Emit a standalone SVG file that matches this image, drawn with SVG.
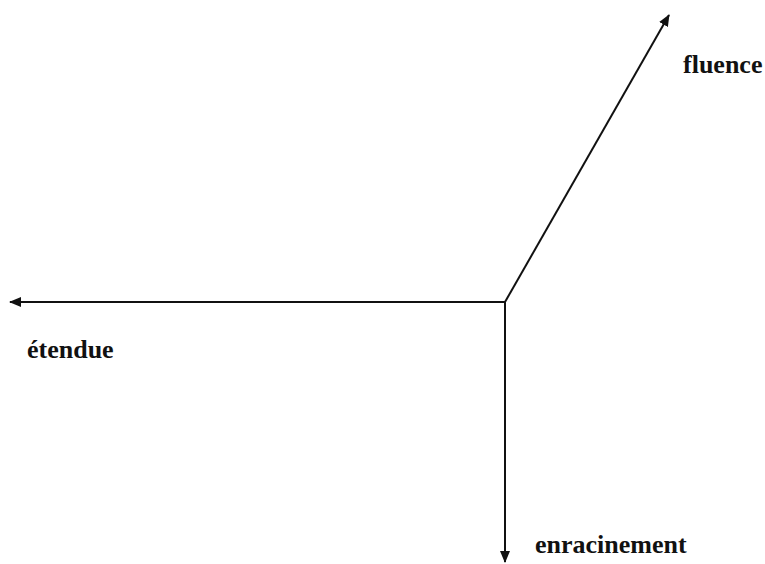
<svg xmlns="http://www.w3.org/2000/svg" width="765" height="564" viewBox="0 0 765 564">
<style>
.ax{stroke:#111;stroke-width:2;fill:none}
.lbl{font-family:"Liberation Serif",serif;font-weight:bold;font-size:26px;fill:#111}
</style>
<defs>
<marker id="ah" markerWidth="12" markerHeight="10" refX="11" refY="5" orient="auto" markerUnits="userSpaceOnUse">
<path d="M0,0 L12,5 L0,10 Z" fill="#111"/>
</marker>
</defs>
<rect width="765" height="564" fill="#fff"/>
<g id="connectors">
<line class="ax" x1="505" y1="302" x2="10" y2="302" marker-end="url(#ah)"/>
<line class="ax" x1="505" y1="302" x2="505" y2="562" marker-end="url(#ah)"/>
<line class="ax" x1="505" y1="302" x2="669" y2="15" marker-end="url(#ah)"/>
</g>
<g id="fluence"><text class="lbl" x="683" y="73">fluence</text></g>
<g id="etendue"><text class="lbl" x="27" y="358">étendue</text></g>
<g id="enracinement"><text class="lbl" x="535" y="553">enracinement</text></g>
</svg>
